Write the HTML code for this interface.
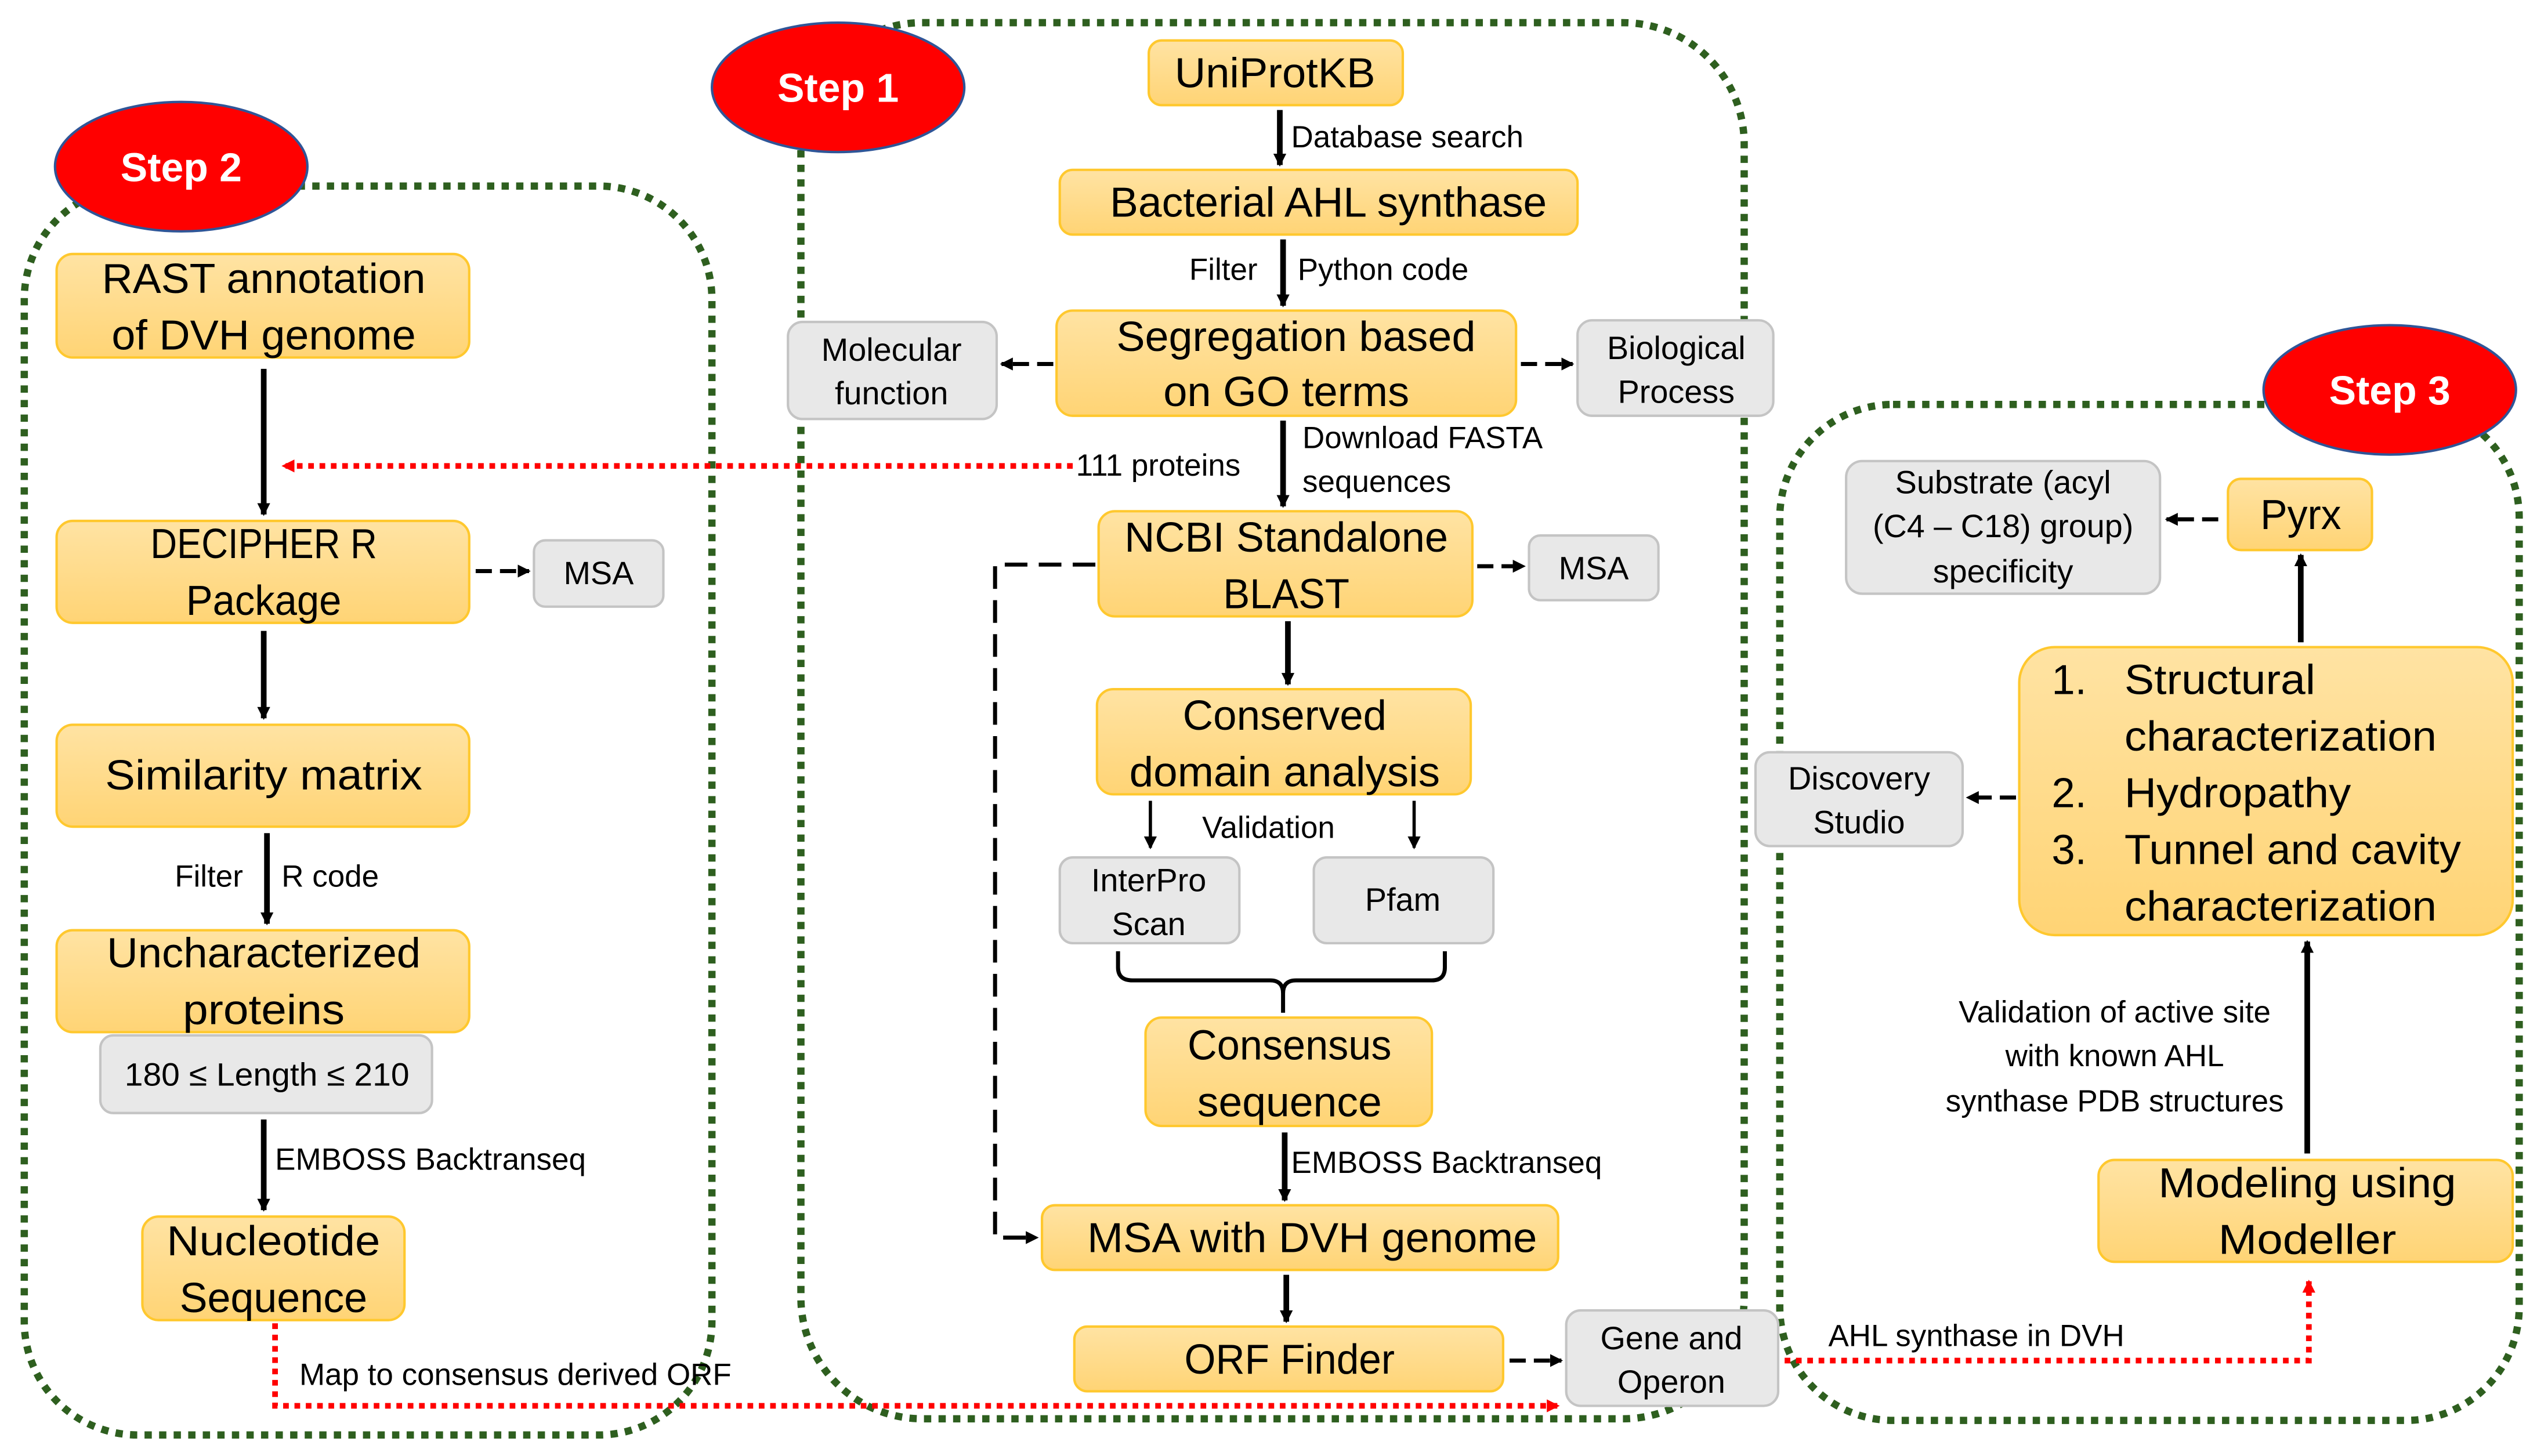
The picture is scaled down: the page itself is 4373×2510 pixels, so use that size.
<!DOCTYPE html>
<html><head><meta charset="utf-8"><style>
html,body{margin:0;padding:0;background:#fff}
svg{display:block}
text{font-family:"Liberation Sans Narrow","Liberation Sans",sans-serif;fill:#000}
.b{font-size:26px}
.g{font-size:20px}
.l{font-size:19px}
.s{font-size:25px;font-weight:bold;fill:#fff;font-family:"Liberation Sans",sans-serif}
</style></head><body>
<svg width="4373" height="2510" viewBox="0 0 1568 900" preserveAspectRatio="none" xmlns="http://www.w3.org/2000/svg">
<defs>
<linearGradient id="yg" x1="0" y1="0" x2="0" y2="1"><stop offset="0" stop-color="#ffe3a3"/><stop offset="1" stop-color="#ffd475"/></linearGradient>
<marker id="ab" markerWidth="8" markerHeight="8" refX="7" refY="4" orient="auto" markerUnits="userSpaceOnUse"><path d="M0,0 L8,4 L0,8 z" fill="#000"/></marker>
<marker id="ar" markerWidth="8" markerHeight="8" refX="7" refY="4" orient="auto" markerUnits="userSpaceOnUse"><path d="M0,0 L8,4 L0,8 z" fill="#f00"/></marker>
</defs>
<g fill="none" stroke="#2e5f1f" stroke-width="4.5" stroke-dasharray="4.5 4.5">
<rect x="495" y="14" width="583" height="863" rx="75"/>
<rect x="15" y="115" width="425" height="772" rx="70"/>
<rect x="1100" y="250" width="457" height="628" rx="70"/>
</g>
<g fill="url(#yg)" stroke="#ffc82e" stroke-width="1.5">
<rect x="710" y="25" width="157" height="40" rx="8"/>
<rect x="655" y="105" width="320" height="40" rx="8"/>
<rect x="653" y="192" width="284" height="65" rx="10"/>
<rect x="679" y="316" width="231" height="65" rx="10"/>
<rect x="678" y="426" width="231" height="65" rx="10"/>
<rect x="708" y="629" width="177" height="67" rx="10"/>
<rect x="644" y="745" width="319" height="40" rx="8"/>
<rect x="664" y="820" width="265" height="40" rx="8"/>
<rect x="35" y="157" width="255" height="64" rx="10"/>
<rect x="35" y="322" width="255" height="63" rx="10"/>
<rect x="35" y="448" width="255" height="63" rx="10"/>
<rect x="35" y="575" width="255" height="63" rx="10"/>
<rect x="88" y="752" width="162" height="64" rx="10"/>
<rect x="1377" y="296" width="89" height="44" rx="8"/>
<rect x="1248" y="400" width="305" height="178" rx="22"/>
<rect x="1297" y="717" width="256" height="63" rx="10"/>
</g>
<g fill="#e8e8e8" stroke="#c4c4c4" stroke-width="1.5">
<rect x="487" y="199" width="129" height="60" rx="9"/>
<rect x="975" y="198" width="121" height="59" rx="9"/>
<rect x="330" y="334" width="80" height="41" rx="7"/>
<rect x="945" y="331" width="80" height="40" rx="7"/>
<rect x="655" y="530" width="111" height="53" rx="8"/>
<rect x="812" y="530" width="111" height="53" rx="8"/>
<rect x="62" y="640" width="205" height="48" rx="8"/>
<rect x="968" y="810" width="131" height="59" rx="9"/>
<rect x="1141" y="285" width="194" height="82" rx="10"/>
<rect x="1085" y="465" width="128" height="58" rx="9"/>
</g>
<g fill="#f00" stroke="#2f5597" stroke-width="1.5">
<ellipse cx="518" cy="54" rx="78" ry="40"/>
<ellipse cx="112" cy="103" rx="78" ry="40"/>
<ellipse cx="1477" cy="241" rx="78" ry="40"/>
</g>
<text class="s" x="518" y="63" text-anchor="middle">Step 1</text>
<text class="s" x="112" y="112" text-anchor="middle">Step 2</text>
<text class="s" x="1477" y="250" text-anchor="middle">Step 3</text>
<!-- solid arrows -->
<g stroke="#000" stroke-width="3.5" fill="none" marker-end="url(#ab)">
<line x1="791" y1="68" x2="791" y2="102"/>
<line x1="793" y1="148" x2="793" y2="189"/>
<line x1="793" y1="260" x2="793" y2="313"/>
<line x1="796" y1="384" x2="796" y2="423"/>
<line x1="794" y1="700" x2="794" y2="742"/>
<line x1="795" y1="788" x2="795" y2="817"/>
<line x1="163" y1="228" x2="163" y2="318"/>
<line x1="163" y1="390" x2="163" y2="444"/>
<line x1="165" y1="515" x2="165" y2="571"/>
<line x1="163" y1="692" x2="163" y2="748"/>
<line x1="1422" y1="397" x2="1422" y2="343"/>
<line x1="1426" y1="713" x2="1426" y2="582"/>
</g>
<g stroke="#000" stroke-width="2" fill="none" marker-end="url(#ab)">
<line x1="711" y1="495" x2="711" y2="524"/>
<line x1="874" y1="495" x2="874" y2="524"/>
</g>
<!-- dashed short arrows -->
<g stroke="#000" stroke-width="2.5" fill="none" stroke-dasharray="10 5" marker-end="url(#ab)">
<line x1="651" y1="225" x2="619" y2="225"/>
<line x1="940" y1="225" x2="972" y2="225"/>
<line x1="294" y1="353" x2="327" y2="353"/>
<line x1="913" y1="350" x2="942" y2="350"/>
<line x1="933" y1="841" x2="965" y2="841"/>
<line x1="1371" y1="321" x2="1339" y2="321"/>
<line x1="1246" y1="493" x2="1216" y2="493"/>
</g>
<path d="M677,349 L615,349 L615,765 L641,765" stroke="#000" stroke-width="2.5" fill="none" stroke-dasharray="14 7" marker-end="url(#ab)"/>
<!-- brace -->
<path d="M691,588 L691,598 Q691,606 700,606 L785,606 Q793,606 793,614 L793,626 M793,614 Q793,606 801,606 L885,606 Q893,606 893,598 L893,588" stroke="#000" stroke-width="2.5" fill="none"/>
<!-- red dotted -->
<g stroke="#f00" stroke-width="3.5" fill="none" stroke-dasharray="3.5 3.5" marker-end="url(#ar)">
<line x1="663" y1="288" x2="175" y2="288"/>
<path d="M170,818 L170,869 L963,869"/>
<path d="M1103,841 L1427,841 L1427,792"/>
</g>
<!-- box texts -->
<g class="b" text-anchor="middle">
<text x="788" y="54" textLength="124" lengthAdjust="spacingAndGlyphs">UniProtKB</text>
<text x="821" y="134" textLength="270" lengthAdjust="spacingAndGlyphs">Bacterial AHL synthase</text>
<text x="801" y="217" textLength="222" lengthAdjust="spacingAndGlyphs">Segregation based</text>
<text x="795" y="251" textLength="152" lengthAdjust="spacingAndGlyphs">on GO terms</text>
<text x="795" y="341" textLength="200" lengthAdjust="spacingAndGlyphs">NCBI Standalone</text>
<text x="795" y="376" textLength="78" lengthAdjust="spacingAndGlyphs">BLAST</text>
<text x="794" y="451" textLength="126" lengthAdjust="spacingAndGlyphs">Conserved</text>
<text x="794" y="486" textLength="192" lengthAdjust="spacingAndGlyphs">domain analysis</text>
<text x="797" y="655" textLength="126" lengthAdjust="spacingAndGlyphs">Consensus</text>
<text x="797" y="690" textLength="114" lengthAdjust="spacingAndGlyphs">sequence</text>
<text x="811" y="774" textLength="278" lengthAdjust="spacingAndGlyphs">MSA with DVH genome</text>
<text x="797" y="849" textLength="130" lengthAdjust="spacingAndGlyphs">ORF Finder</text>
<text x="163" y="181" textLength="200" lengthAdjust="spacingAndGlyphs">RAST annotation</text>
<text x="163" y="216" textLength="188" lengthAdjust="spacingAndGlyphs">of DVH genome</text>
<text x="163" y="345" textLength="140" lengthAdjust="spacingAndGlyphs">DECIPHER R</text>
<text x="163" y="380" textLength="96" lengthAdjust="spacingAndGlyphs">Package</text>
<text x="163" y="488" textLength="196" lengthAdjust="spacingAndGlyphs">Similarity matrix</text>
<text x="163" y="598" textLength="194" lengthAdjust="spacingAndGlyphs">Uncharacterized</text>
<text x="163" y="633" textLength="100" lengthAdjust="spacingAndGlyphs">proteins</text>
<text x="169" y="776" textLength="132" lengthAdjust="spacingAndGlyphs">Nucleotide</text>
<text x="169" y="811" textLength="116" lengthAdjust="spacingAndGlyphs">Sequence</text>
<text x="1422" y="327" textLength="50" lengthAdjust="spacingAndGlyphs">Pyrx</text>
<text x="1426" y="740" textLength="184" lengthAdjust="spacingAndGlyphs">Modeling using</text>
<text x="1426" y="775" textLength="110" lengthAdjust="spacingAndGlyphs">Modeller</text>
</g>
<g class="b">
<text x="1268" y="429">1.</text>
<text x="1313" y="429" textLength="118" lengthAdjust="spacingAndGlyphs">Structural</text>
<text x="1313" y="464" textLength="193" lengthAdjust="spacingAndGlyphs">characterization</text>
<text x="1268" y="499">2.</text>
<text x="1313" y="499" textLength="140" lengthAdjust="spacingAndGlyphs">Hydropathy</text>
<text x="1268" y="534">3.</text>
<text x="1313" y="534" textLength="208" lengthAdjust="spacingAndGlyphs">Tunnel and cavity</text>
<text x="1313" y="569" textLength="193" lengthAdjust="spacingAndGlyphs">characterization</text>
</g>
<g class="g" text-anchor="middle">
<text x="551" y="223">Molecular</text>
<text x="551" y="250">function</text>
<text x="1036" y="222">Biological</text>
<text x="1036" y="249">Process</text>
<text x="370" y="361">MSA</text>
<text x="985" y="358">MSA</text>
<text x="710" y="551">InterPro</text>
<text x="710" y="578">Scan</text>
<text x="867" y="563">Pfam</text>
<text x="165" y="671" textLength="176" lengthAdjust="spacingAndGlyphs">180 ≤ Length ≤ 210</text>
<text x="1033" y="834">Gene and</text>
<text x="1033" y="861">Operon</text>
<text x="1238" y="305">Substrate (acyl</text>
<text x="1238" y="332">(C4 – C18) group)</text>
<text x="1238" y="360">specificity</text>
<text x="1149" y="488">Discovery</text>
<text x="1149" y="515">Studio</text>
</g>
<g class="l">
<text x="798" y="91">Database search</text>
<text x="735" y="173">Filter</text>
<text x="802" y="173">Python code</text>
<text x="805" y="277">Download FASTA</text>
<text x="805" y="304">sequences</text>
<text x="665" y="294">111 proteins</text>
<text x="743" y="518">Validation</text>
<text x="798" y="725">EMBOSS Backtranseq</text>
<text x="108" y="548">Filter</text>
<text x="174" y="548">R code</text>
<text x="170" y="723">EMBOSS Backtranseq</text>
<text x="185" y="856">Map to consensus derived ORF</text>
<text x="1130" y="832">AHL synthase in DVH</text>
</g>
<g class="l" text-anchor="middle">
<text x="1307" y="632">Validation of active site</text>
<text x="1307" y="659">with known AHL</text>
<text x="1307" y="687">synthase PDB structures</text>
</g>
</svg>
</body></html>
